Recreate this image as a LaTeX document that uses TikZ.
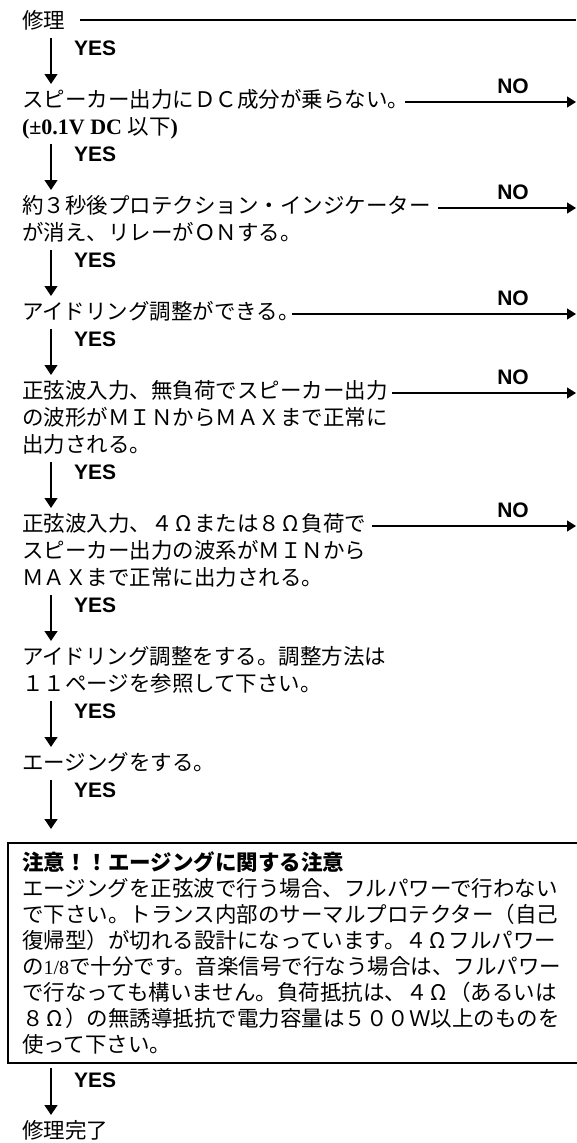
\documentclass[tikz,border=0pt]{standalone}
\usepackage{fontspec}
\setmainfont{Liberation Serif}
\newfontfamily\jpf{Noto Sans CJK JP}
\newfontfamily\lsans{Liberation Sans}
\usetikzlibrary{arrows.meta}
\newcommand\Jt{\jpf\fontsize{21.5}{27}\selectfont}
\newcommand\Jb{\jpf\fontsize{21.5}{26}\selectfont}
\newcommand\Lm[1]{\rule[-5.3pt]{0pt}{27pt}\smash{#1}}
\newcommand\Lb[1]{\rule[-4.8pt]{0pt}{26pt}\smash{#1}}
\newcommand\Om{\makebox[1em]{Ω}}
\newcommand\Lat[1]{{\rmfamily\bfseries\fontsize{22}{27}\selectfont #1}}
\tikzset{
  stepnode/.style={anchor=north west, inner sep=0pt, outer sep=0pt, align=left, font=\Jt},
  yeslab/.style={anchor=west, inner sep=0pt, font=\lsans\bfseries\fontsize{21}{24}\selectfont},
  nolab/.style={anchor=center, inner sep=0pt, font=\lsans\bfseries\fontsize{21}{24}\selectfont},
  flow/.style={line width=1.3pt, -{Triangle[length=10pt,width=13pt]}, shorten <=4.5pt, shorten >=1.5pt},
  noflow/.style={line width=1.3pt, -{Triangle[length=9pt,width=11pt]}},
  warnbox/.style={draw, line width=1.4pt, anchor=north west, outer sep=0pt, inner xsep=14pt, inner ysep=6pt, text width=542.5pt, align=left, font=\Jb}
}
\begin{document}
\begin{tikzpicture}[x=1pt,y=-1pt]
\useasboundingbox (0,0) rectangle (576,1143);
\coordinate (ax) at (51,0);
% steps
\node[stepnode] (s0) at (22,6.5) {\Lm{修理}};
\node[stepnode] (s1) at (22,85.5) {\Lm{スピーカー出力にＤＣ成分が乗らない。}\\\Lm{\Lat{(±0.1V DC }以下\Lat{)}}};
\node[stepnode] (s2) at (22,191.5) {\Lm{約３秒後プロテクション・インジケーター}\\\Lm{が消え、リレーがＯＮする。}};
\node[stepnode] (s3) at (22,297.5) {\Lm{アイドリング調整ができる。}};
\node[stepnode] (s4) at (22,376.5) {\Lm{正弦波入力、無負荷でスピーカー出力}\\\Lm{の波形がＭＩＮからＭＡＸまで正常に}\\\Lm{出力される。}};
\node[stepnode] (s5) at (22,509.5) {\Lm{正弦波入力、４\Om または８\Om 負荷で}\\\Lm{スピーカー出力の波系がＭＩＮから}\\\Lm{ＭＡＸまで正常に出力される。}};
\node[stepnode] (s6) at (22,642.5) {\Lm{アイドリング調整をする。調整方法は}\\\Lm{１１ページを参照して下さい。}};
\node[stepnode] (s7) at (22,748.5) {\Lm{エージングをする。}};
\node[warnbox] (s8) at (8,843) {\Lb{\bfseries 注意！！エージングに関する注意}\\
\Lb{エージングを正弦波で行う場合、フルパワーで行わない}\\
\Lb{で下さい。トランス内部のサーマルプロテクター（自己}\\
\Lb{復帰型）が切れる設計になっています。４\Om フルパワー}\\
\Lb{の{\rmfamily\fontsize{20}{24}\selectfont 1/8}で十分です。音楽信号で行なう場合は、フルパワー}\\
\Lb{で行なっても構いません。負荷抵抗は、４\Om （あるいは}\\
\Lb{８\Om ）の無誘導抵抗で電力容量は５００Ｗ以上のものを}\\
\Lb{使って下さい。}};
\node[stepnode] (s9) at (22,1116.5) {\Lm{修理完了}};
% top line
\coordinate (topend) at (576,20);
\draw[line width=1.3pt] (80,20) coordinate (topstart) -- (topend);
% YES arrows
\draw[flow] (s0.south -| ax) -- (s1.north -| ax);
\draw[flow] (s1.south -| ax) -- (s2.north -| ax);
\draw[flow] (s2.south -| ax) -- (s3.north -| ax);
\draw[flow] (s3.south -| ax) -- (s4.north -| ax);
\draw[flow] (s4.south -| ax) -- (s5.north -| ax);
\draw[flow] (s5.south -| ax) -- (s6.north -| ax);
\draw[flow] (s6.south -| ax) -- (s7.north -| ax);
\draw[flow, shorten >=14pt] (s7.south -| ax) -- (s8.north -| ax);
\draw[flow, shorten <=5pt] (s8.south -| ax) -- (s9.north -| ax);
\node[yeslab] (y0) at (74,48) {YES};
\node[yeslab] (y1) at (74,154) {YES};
\node[yeslab] (y2) at (74,260) {YES};
\node[yeslab] (y3) at (74,339) {YES};
\node[yeslab] (y4) at (74,472) {YES};
\node[yeslab] (y5) at (74,605) {YES};
\node[yeslab] (y6) at (74,711) {YES};
\node[yeslab] (y7) at (74,790) {YES};
\node[yeslab] (y8) at (74,1080) {YES};
% NO arrows
\coordinate (n1a) at (405,102); \coordinate (n1b) at (576,102);
\coordinate (n2a) at (438,208); \coordinate (n2b) at (576,208);
\coordinate (n3a) at (292,314); \coordinate (n3b) at (576,314);
\coordinate (n4a) at (392,393); \coordinate (n4b) at (576,393);
\coordinate (n5a) at (372,526); \coordinate (n5b) at (576,526);
\draw[noflow] (n1a) -- (n1b);
\draw[noflow] (n2a) -- (n2b);
\draw[noflow] (n3a) -- (n3b);
\draw[noflow] (n4a) -- (n4b);
\draw[noflow] (n5a) -- (n5b);
\node[nolab] (no1) at (513,86) {NO};
\node[nolab] (no2) at (513,192) {NO};
\node[nolab] (no3) at (513,298) {NO};
\node[nolab] (no4) at (513,377) {NO};
\node[nolab] (no5) at (513,510) {NO};
\end{tikzpicture}
\end{document}
